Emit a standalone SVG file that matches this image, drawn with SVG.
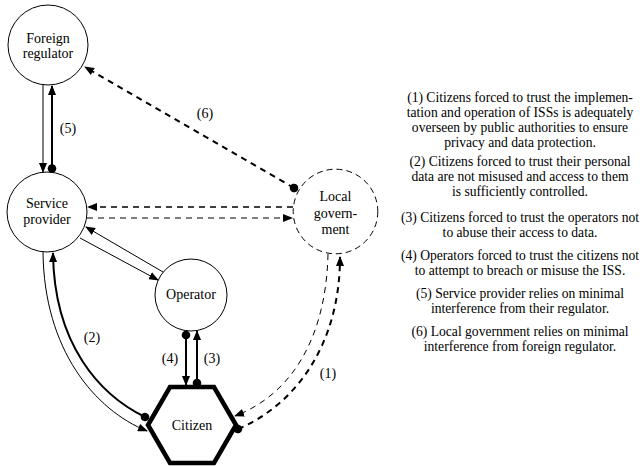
<svg xmlns="http://www.w3.org/2000/svg" width="644" height="466" viewBox="0 0 644 466">
  <style>
    .node { fill: #fff; stroke: #000; stroke-width: 1; }
    .dnode { fill: #fff; stroke: #000; stroke-width: 1; stroke-dasharray: 6 4; }
    .hex { fill: #fff; stroke: #000; stroke-width: 4.5; stroke-linejoin: miter; }
    .lbl { font-family: "Liberation Serif", "DejaVu Serif", serif; font-size: 14px; text-anchor: middle; fill: #000; }
    .note { font-family: "Liberation Serif", "DejaVu Serif", serif; font-size: 13.6px; text-anchor: middle; fill: #000; }
    .thin { fill: none; stroke: #000; stroke-width: 1; }
    .thick { fill: none; stroke: #000; stroke-width: 2; }
    .dash { stroke-dasharray: 6 5; }
  </style>
  <defs>
    <marker id="arr" markerUnits="userSpaceOnUse" viewBox="0 0 10 8" markerWidth="10" markerHeight="8" refX="9" refY="4" orient="auto">
      <path d="M0,0 L10,4 L0,8 z" fill="#000"/>
    </marker>
    <marker id="dot" markerUnits="userSpaceOnUse" viewBox="0 0 10 10" markerWidth="10" markerHeight="10" refX="5" refY="5" orient="auto">
      <circle cx="5" cy="5" r="4.3" fill="#000"/>
    </marker>
  </defs>

  <!-- nodes -->
  <g id="foreign-regulator">
    <circle class="node" cx="48" cy="45" r="40"/>
    <text class="lbl" x="48" y="42.5">Foreign</text>
    <text class="lbl" x="48" y="58">regulator</text>
  </g>
  <g id="service-provider">
    <circle class="node" cx="47" cy="212" r="40"/>
    <text class="lbl" x="47" y="208">Service</text>
    <text class="lbl" x="47" y="223.5">provider</text>
  </g>
  <g id="operator">
    <circle class="node" cx="191" cy="295" r="36"/>
    <text class="lbl" x="191" y="299">Operator</text>
  </g>
  <g id="local-government">
    <circle class="dnode" cx="335.5" cy="211.5" r="42.3"/>
    <text class="lbl" x="335.5" y="201">Local</text>
    <text class="lbl" x="335.5" y="217.5">govern-</text>
    <text class="lbl" x="335.5" y="233.5">ment</text>
  </g>
  <g id="citizen">
    <polygon class="hex" points="236,425 214,387 170,387 148,425 170,463 214,463"/>
    <text class="lbl" x="192" y="430">Citizen</text>
  </g>

  <!-- connectors -->
  <g id="connectors">
    <!-- foreign regulator / service provider (5) -->
    <path class="thin" d="M43,85 L43,172" marker-end="url(#arr)"/>
    <path class="thick" d="M52,168.5 L52,86" marker-start="url(#dot)" marker-end="url(#arr)"/>
    <!-- local government to foreign regulator (6) -->
    <path class="thick dash" d="M294,188 L85,67" marker-start="url(#dot)" marker-end="url(#arr)"/>
    <!-- local government / service provider -->
    <path class="thin dash" d="M293,207 L88,207" marker-end="url(#arr)" style="stroke-width:1.3"/>
    <path class="thin dash" d="M87,218 L292,218" marker-end="url(#arr)" style="stroke-width:1.1"/>
    <!-- service provider / operator -->
    <path class="thin" d="M80,238 L158,280" marker-end="url(#arr)"/>
    <path class="thin" d="M163,272 L86,227" marker-end="url(#arr)"/>
    <!-- operator / citizen (4) and (3) -->
    <path class="thick" d="M186,335 L186,385" marker-start="url(#dot)" marker-end="url(#arr)"/>
    <path class="thick" d="M197,383 L197,331" marker-start="url(#dot)" marker-end="url(#arr)"/>
    <!-- service provider / citizen (2) -->
    <path class="thin" d="M43,252 C44,350 95,410 147,431" marker-end="url(#arr)"/>
    <path class="thick" d="M145,417 C100,395 54,345 53,253" marker-start="url(#dot)" marker-end="url(#arr)"/>
    <!-- local government / citizen (1) -->
    <path class="thin dash" d="M328,254 C326,340 290,395 235,416" marker-end="url(#arr)"/>
    <path class="thick dash" d="M238,429 C295,405 340,345 340,257" marker-start="url(#dot)" marker-end="url(#arr)"/>

    <text class="lbl" x="68" y="133">(5)</text>
    <text class="lbl" x="205" y="118">(6)</text>
    <text class="lbl" x="92" y="342">(2)</text>
    <text class="lbl" x="170" y="363">(4)</text>
    <text class="lbl" x="212" y="363">(3)</text>
    <text class="lbl" x="328" y="378">(1)</text>
  </g>

  <!-- legend -->
  <g id="legend">
    <text class="note" x="520" y="102">(1) Citizens forced to trust the implemen-</text>
    <text class="note" x="520" y="117">tation and operation of ISSs is adequately</text>
    <text class="note" x="520" y="132">overseen by public authorities to ensure</text>
    <text class="note" x="520" y="147">privacy and data protection.</text>
    <text class="note" x="520" y="166">(2) Citizens forced to trust their personal</text>
    <text class="note" x="520" y="181">data are not misused and access to them</text>
    <text class="note" x="520" y="196">is sufficiently controlled.</text>
    <text class="note" x="520" y="222">(3) Citizens forced to trust the operators not</text>
    <text class="note" x="520" y="237">to abuse their access to data.</text>
    <text class="note" x="520" y="260">(4) Operators forced to trust the citizens not</text>
    <text class="note" x="520" y="275">to attempt to breach or misuse the ISS.</text>
    <text class="note" x="520" y="298">(5) Service provider relies on minimal</text>
    <text class="note" x="520" y="313">interference from their regulator.</text>
    <text class="note" x="520" y="336">(6) Local government relies on minimal</text>
    <text class="note" x="520" y="351">interference from foreign regulator.</text>
  </g>
</svg>
